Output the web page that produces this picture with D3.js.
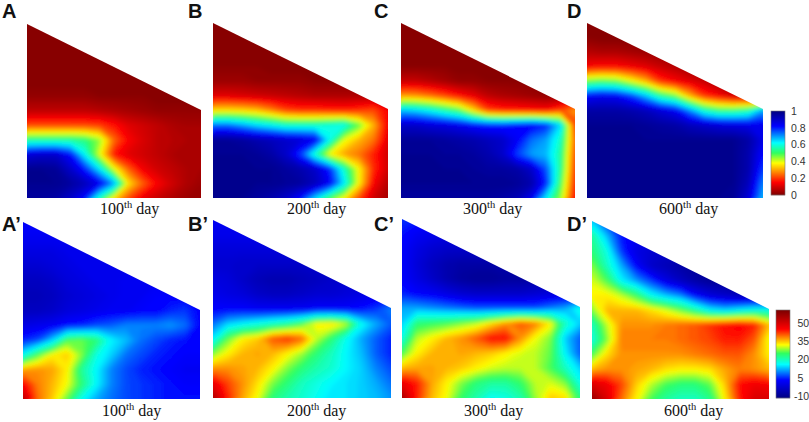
<!DOCTYPE html>
<html>
<head>
<meta charset="utf-8">
<script src="https://cdn.jsdelivr.net/npm/d3@7"></script>
<style>
    html, body { margin: 0; padding: 0; background: #fff; }
    svg { display: block; }
</style>
</head>
<body>
<svg id="chart" width="809" height="422"></svg>
<script>
var satA = [
    [1,1,1,1,1,1,1,1,1,1,1,1,1],
    [1,1,1,1,1,1,1,1,1,1,1,1,1],
    [1,1,1,1,1,1,1,1,1,1,1,1,1],
    [1,1,1,1,1,1,1,1,1,1,1,1,1],
    [1,1,1,1,1,1,1,1,1,1,1,1,1],
    [3,3,3,3,3,2,2,2,2,1,1,1,1],
    [8,8,8,8,8,7,6,5,4,3,3,3,3],
    [22,22,22,22,22,21,17,12,10,8,6,5,5],
    [55,55,55,55,53,45,25,15,11,8,7,6,5],
    [88,90,90,82,62,40,17,12,10,8,6,5,5],
    [98,98,97,90,80,64,40,24,14,10,8,6,5],
    [98,98,98,96,92,85,70,36,24,15,10,6,4],
    [96,96,95,90,82,58,36,22,13,9,6,4,3]
];
var satB = [
    [1,1,1,1,1,1,1,1,1,1,1,1,1],
    [1,1,1,1,1,1,1,1,1,1,1,1,1],
    [1,1,1,1,1,1,1,1,1,1,1,1,1],
    [2,2,2,2,1,1,1,1,1,1,1,1,1],
    [4,4,4,3,3,3,3,2,2,2,2,2,2],
    [12,12,11,10,9,8,7,6,6,6,6,6,6],
    [36,36,35,33,28,22,20,20,19,18,20,22,15],
    [74,74,70,65,62,58,58,58,60,62,48,32,14],
    [97,97,96,94,92,90,88,85,62,40,32,26,12],
    [98,98,98,97,95,90,78,58,38,30,26,18,10],
    [98,98,98,98,98,96,94,90,80,58,38,19,10],
    [98,98,98,98,98,97,96,92,84,64,38,15,7],
    [98,98,98,96,94,90,82,66,50,38,22,10,5]
];
var satC = [
    [1,1,1,1,1,1,1,1,1,1,1,1,1],
    [1,1,1,1,1,1,1,1,1,1,1,1,1],
    [1,1,1,1,1,1,1,1,1,1,1,1,1],
    [2,2,2,2,1,1,1,1,1,1,1,1,1],
    [9,9,7,5,3,3,2,2,2,2,2,2,2],
    [30,29,26,22,17,13,8,6,5,4,3,3,3],
    [68,66,62,56,50,36,22,19,18,17,16,22,30],
    [90,90,88,87,85,82,80,80,82,84,80,65,20],
    [97,97,97,96,95,94,92,90,84,74,70,58,24],
    [98,98,98,97,97,96,94,90,78,70,68,55,22],
    [98,98,98,98,98,97,96,96,95,90,76,54,20],
    [98,98,98,98,98,98,98,98,97,94,80,50,18],
    [96,96,96,96,96,96,96,95,93,85,64,45,15]
];
var satD = [
    [1,1,1,1,1,1,1,1,1,1,1,1,1],
    [2,1,1,1,1,1,1,1,1,1,1,1,1],
    [7,6,6,5,4,3,2,1,1,1,1,1,1],
    [15,16,16,14,12,9,7,4,3,2,2,2,2],
    [48,50,48,40,32,20,15,12,9,5,5,5,5],
    [83,85,84,78,68,55,48,32,20,15,10,8,8],
    [95,95,95,94,92,88,84,72,58,52,52,55,70],
    [98,98,98,98,97,96,95,92,90,88,87,86,85],
    [98,98,98,98,98,98,98,98,98,98,98,95,86],
    [98,98,98,98,98,98,98,98,98,98,98,94,82],
    [98,98,98,98,98,98,98,98,98,98,98,94,78],
    [98,98,98,98,98,98,98,98,98,98,98,92,72],
    [98,98,98,98,98,98,98,98,98,98,97,88,68]
];
//temperature
var tempA = [
    [3,3,3,3,3,3,3,3,3,3,3,3,3],
    [2,2,2,2,2,2,2,2,2,2,2,2,2],
    [0,0,0,1,1,1,1,1,2,2,2,2,2],
    [-2,-2,-1,0,1,1,1,1,2,2,2,2,2],
    [-4,-4,-3,-1,0,1,1,2,2,2,2,3,3],
    [-5,-5,-4,-2,-1,0,1,2,2,3,3,3,3],
    [-4,-4,-3,-1,0,1,2,2,3,3,5,6,3],
    [0,1,2,4,5,7,8,10,10,10,11,9,3],
    [5,7,14,26,27,24,16,13,9,7,5,4,3],
    [17,26,33,35,28,18,14,9,7,5,4,3,3],
    [37,38,37,33,22,16,10,7,5,4,3,2,2],
    [46,39,36,32,24,16,10,7,6,5,4,3,3],
    [54,40,35,27,17,12,9,7,6,5,4,4,4]
];
var tempB = [
    [2,2,2,2,2,2,2,2,2,2,2,2,2],
    [1,1,1,1,1,1,1,1,1,1,1,1,1],
    [-1,-1,-1,-1,-1,-1,-1,-1,0,0,0,0,0],
    [-2,-2,-3,-3,-3,-3,-3,-2,-2,-1,-1,0,0],
    [0,-1,-3,-5,-6,-6,-5,-4,-3,-2,-1,0,0],
    [1,0,-1,-3,-4,-4,-3,-2,-2,-1,0,1,2],
    [3,3,3,2,2,2,2,3,3,3,4,6,10],
    [9,14,16,18,20,22,26,33,34,30,17,12,8],
    [16,27,33,35,41,43,40,30,24,17,12,8,5],
    [28,33,36,37,36,33,29,24,20,16,13,8,5],
    [38,38,37,36,33,28,24,21,19,16,14,10,7],
    [48,42,38,34,28,24,20,18,16,15,14,12,9],
    [55,44,37,32,24,21,19,17,15,15,14,13,11]
];
var tempC = [
    [6,5,4,4,4,4,4,4,4,4,4,4,4],
    [4,2,1,0,0,0,0,0,0,0,0,0,0],
    [3,0,-2,-3,-3,-3,-3,-3,-3,-3,-3,-3,-3],
    [3,-1,-4,-6,-7,-7,-7,-6,-6,-6,-6,-6,-6],
    [3,0,-3,-6,-8,-9,-9,-8,-8,-7,-6,-6,-6],
    [5,3,2,0,-2,-3,-3,-3,-3,-2,-1,0,0],
    [12,12,11,10,9,8,8,8,8,8,10,12,18],
    [14,24,25,26,28,30,34,38,41,39,33,20,14],
    [18,30,33,36,38,41,45,45,38,32,28,14,8],
    [26,33,36,36,37,36,35,33,31,30,27,16,8],
    [36,37,37,36,35,33,31,30,30,30,26,20,14],
    [48,44,37,33,28,24,22,22,25,30,31,28,18],
    [56,44,36,32,25,21,17,18,21,29,35,34,24]
];
var tempD = [
    [14,6,4,3,3,3,3,3,3,3,3,3,3],
    [22,13,4,2,2,2,2,2,2,2,2,2,2],
    [24,18,6,0,-2,-3,-3,-3,-3,-3,-3,-3,-3],
    [28,20,12,3,-3,-5,-7,-8,-8,-8,-8,-8,-8],
    [31,26,16,11,6,0,-4,-7,-9,-9,-9,-9,-9],
    [33,33,30,25,17,13,10,3,-1,-3,-5,-6,-6],
    [28,36,36,36,34,31,27,22,16,14,16,18,18],
    [20,30,38,38,38,39,40,41,43,45,46,44,36],
    [18,28,39,39,39,39,40,41,42,44,44,41,32],
    [26,34,38,38,38,38,38,39,40,41,41,38,33],
    [36,38,38,37,36,34,33,33,34,37,39,38,36],
    [50,47,42,35,30,26,24,24,27,35,45,47,46],
    [58,50,40,33,26,22,20,20,23,33,44,50,50]
];

var satStops = [0, 15, 38, 50, 62, 82, 100];
var satColors = ['#7f0000', '#ff0000', '#ffff00', '#30ff60', '#00ffff', '#0000ff', '#00007f'];
var tempStops = [-12, 3, 16, 25, 32, 45, 60];
var tempColors = ['#00007f', '#0000ff', '#00ffff', '#30ff60', '#ffff00', '#ff0000', '#7f0000'];

var satTicks = [0, 20, 40, 60, 80, 100];
var satTickLabels = ['0', '0.2', '0.4', '0.6', '0.8', '1'];
var tempTicks = [-10, 5, 20, 35, 50];
var tempTickLabels = ['-10', '5', '20', '35', '50'];

var dayNames = ['100', '200', '300', '600'];
var satLetters = ['A', 'B', 'C', 'D'];
var tempLetters = ['A\u2019', 'B\u2019', 'C\u2019', 'D\u2019'];

//panel layout
var panels = [
    { values: satA, x0: 27, x1: 201, top: 24, mid: 110, bottom: 198, kind: 'sat', letter: satLetters[0], lx: 2, ly: 18, day: dayNames[0], dx: 100, dy: 214 },
    { values: satB, x0: 213, x1: 388, top: 23, mid: 109, bottom: 198, kind: 'sat', letter: satLetters[1], lx: 188, ly: 18, day: dayNames[1], dx: 287, dy: 214 },
    { values: satC, x0: 401, x1: 575, top: 23, mid: 109, bottom: 198, kind: 'sat', letter: satLetters[2], lx: 374, ly: 18, day: dayNames[2], dx: 463, dy: 214 },
    { values: satD, x0: 587, x1: 763, top: 23, mid: 109, bottom: 198, kind: 'sat', letter: satLetters[3], lx: 567, ly: 18, day: dayNames[3], dx: 659, dy: 214 },
    { values: tempA, x0: 23, x1: 200, top: 222, mid: 310, bottom: 399, kind: 'temp', letter: tempLetters[0], lx: 2, ly: 231, day: dayNames[0], dx: 102, dy: 416 },
    { values: tempB, x0: 213, x1: 391, top: 220, mid: 308, bottom: 398, kind: 'temp', letter: tempLetters[1], lx: 188, ly: 231, day: dayNames[1], dx: 287, dy: 416 },
    { values: tempC, x0: 402, x1: 580, top: 219, mid: 307, bottom: 398, kind: 'temp', letter: tempLetters[2], lx: 374, ly: 231, day: dayNames[2], dx: 464, dy: 416 },
    { values: tempD, x0: 592, x1: 769, top: 221, mid: 309, bottom: 399, kind: 'temp', letter: tempLetters[3], lx: 567, ly: 231, day: dayNames[3], dx: 664, dy: 416 }
];

var satColor = d3.scaleLinear().domain(satStops).range(satColors).clamp(true);
var tempColor = d3.scaleLinear().domain(tempStops).range(tempColors).clamp(true);

var svg = d3.select('#chart');
var defs = svg.append('defs');
defs.append('filter')
    .attr('id', 'soft')
    .attr('x', '-10%').attr('y', '-10%').attr('width', '120%').attr('height', '120%')
    .append('feGaussianBlur')
    .attr('stdDeviation', 2);

panels.forEach(function (p, i) {
    var n = p.values.length;
    var m = p.values[0].length;
    var x = d3.scaleLinear().domain([0.5, m - 0.5]).range([p.x0, p.x1]);
    var y = d3.scaleLinear().domain([0.5, n - 0.5]).range([p.top, p.bottom]);
    var color = p.kind == 'sat' ? satColor : tempColor;
    var levels = p.kind == 'sat' ? d3.range(0, 100.5, 1) : d3.range(-12, 60.5, 0.75);

    defs.append('clipPath')
        .attr('id', 'clip' + i)
        .append('polygon')
        .attr('points', [[p.x0, p.top], [p.x1, p.mid], [p.x1, p.bottom], [p.x0, p.bottom]].join(' '));

    var contours = d3.contours()
        .size([m, n])
        .thresholds(levels)(d3.merge(p.values));

    var path = d3.geoPath(d3.geoTransform({
        point: function (a, b) {
            this.stream.point(x(a), y(b));
        }
    }));

    var g = svg.append('g').attr('clip-path', 'url(#clip' + i + ')')
        .append('g').attr('filter', 'url(#soft)');

    g.selectAll('path')
        .data(contours)
        .enter().append('path')
        .attr('d', path)
        .attr('fill', function (d) {
            return color(d.value);
        });

    svg.append('text')
        .attr('x', p.lx).attr('y', p.ly)
        .attr('font-family', '"Liberation Sans", Arial, sans-serif')
        .attr('font-weight', 'bold')
        .attr('font-size', 20)
        .attr('fill', '#111')
        .text(p.letter);

    var day = svg.append('text')
        .attr('x', p.dx).attr('y', p.dy)
        .attr('font-family', '"Liberation Serif", "Times New Roman", serif')
        .attr('font-size', 16)
        .attr('fill', '#111');
    day.append('tspan').text(p.day);
    day.append('tspan').attr('dy', -6).attr('font-size', 10.5).text('th');
    day.append('tspan').attr('dy', 6).text(' day');
});

//colour bars
function drawBar(color, barX, barW, barTop, barBottom, scale, ticks, labels, labelX) {
    var g = svg.append('g');
    var rows = d3.range(barTop, barBottom, 1);
    g.selectAll('rect')
        .data(rows)
        .enter().append('rect')
        .attr('x', barX)
        .attr('y', function (d) { return d; })
        .attr('width', barW)
        .attr('height', 1.2)
        .attr('fill', function (d) { return color(scale.invert(d + 0.5)); });
    g.append('rect')
        .attr('x', barX).attr('y', barTop)
        .attr('width', barW).attr('height', barBottom - barTop)
        .attr('fill', 'none')
        .attr('stroke', '#777')
        .attr('stroke-width', 0.6);

    var axis = d3.axisRight(scale)
        .tickValues(ticks)
        .tickSize(0)
        .tickPadding(0)
        .tickFormat(function (d, i) { return labels[i]; });
    var a = svg.append('g')
        .attr('transform', 'translate(' + labelX + ',0)')
        .call(axis);
    a.select('.domain').remove();
    a.selectAll('text')
        .attr('font-family', '"Liberation Sans", Arial, sans-serif')
        .attr('font-size', 10.5)
        .attr('fill', '#333')
        .attr('x', function (d) { return d < 0 ? -3.5 : 0; });
}

var satScale = d3.scaleLinear().domain([0, 100]).range([195, 111]);
var tempScale = d3.scaleLinear().domain([-10, 50]).range([396, 323]);
drawBar(satColor, 771, 14, 111, 195, satScale, satTicks, satTickLabels, 791);
drawBar(tempColor, 776, 14, 310, 398, tempScale, tempTicks, tempTickLabels, 797.5);
</script>
</body>
</html>
